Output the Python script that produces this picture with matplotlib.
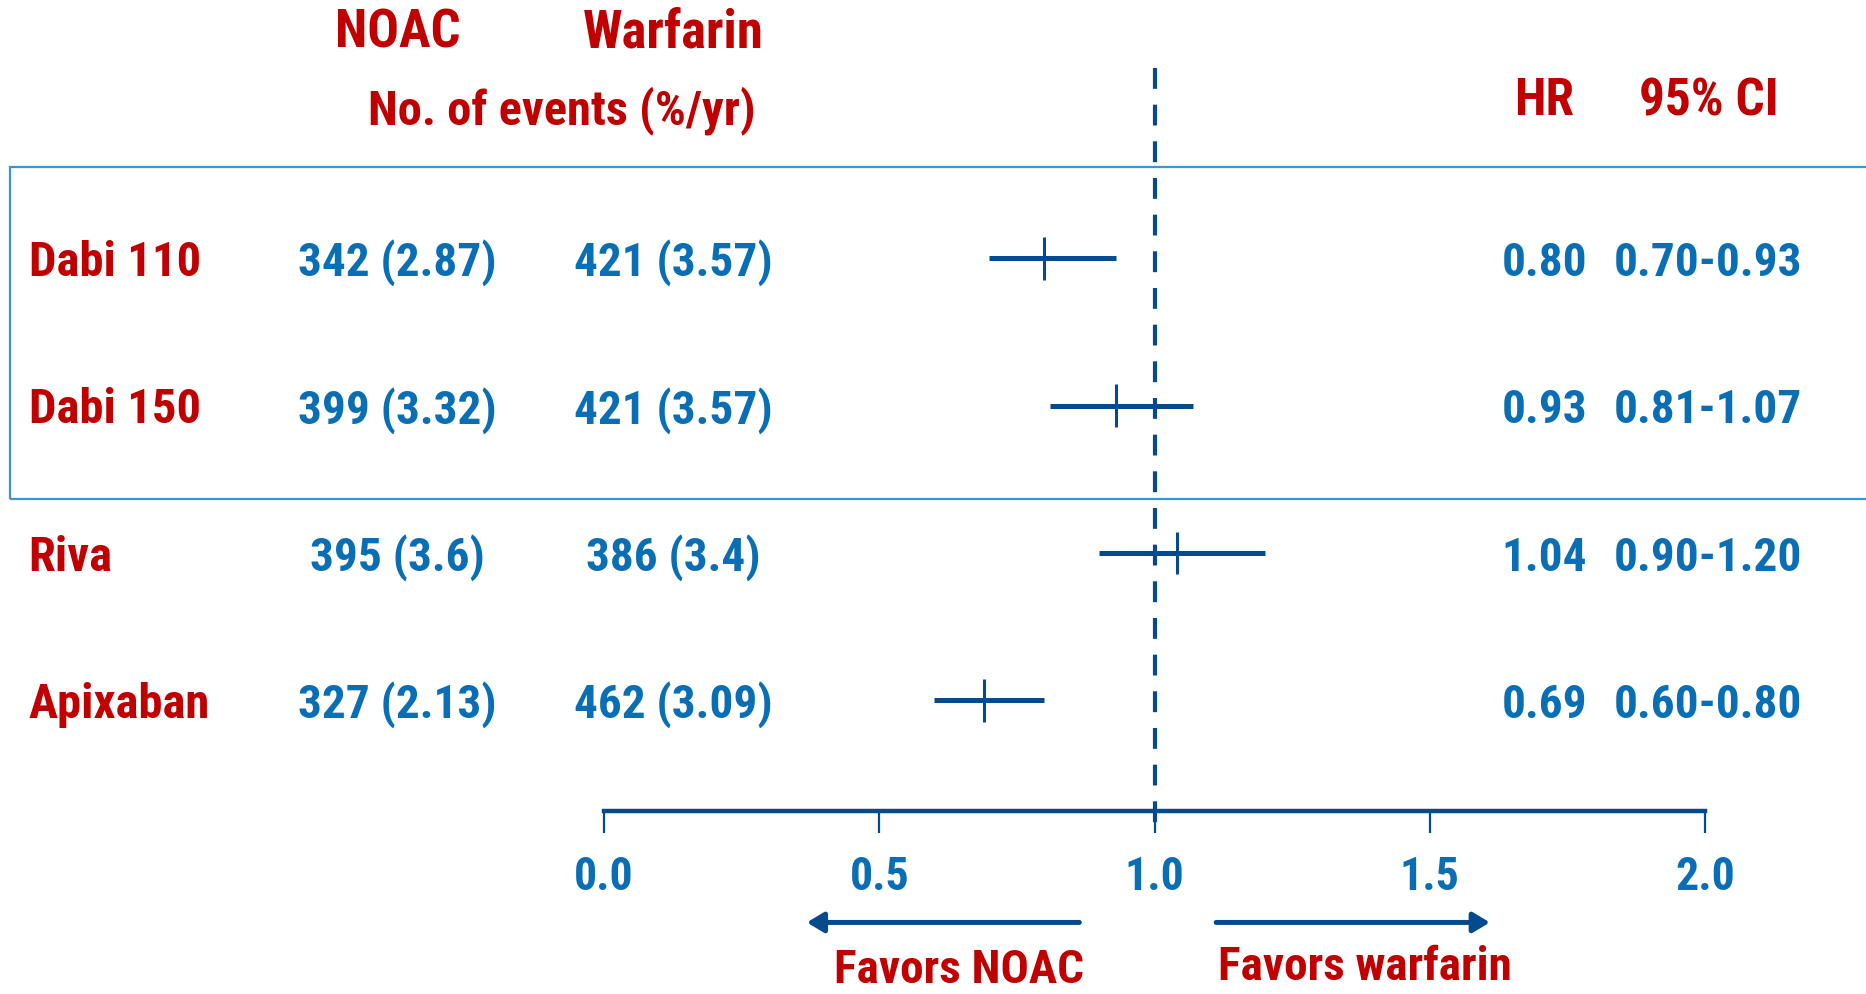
import matplotlib
matplotlib.use("Agg")
import matplotlib.pyplot as plt
from matplotlib import font_manager
from matplotlib.patches import Rectangle, FancyArrowPatch

# ---------------- data ----------------
drugs = ["Dabi 110", "Dabi 150", "Riva", "Apixaban"]
noac_events = ["342 (2.87)", "399 (3.32)", "395 (3.6)", "327 (2.13)"]
warf_events = ["421 (3.57)", "421 (3.57)", "386 (3.4)", "462 (3.09)"]
hr = [0.80, 0.93, 1.04, 0.69]
ci_low = [0.70, 0.81, 0.90, 0.60]
ci_high = [0.93, 1.07, 1.20, 0.80]
xticks = [0.0, 0.5, 1.0, 1.5, 2.0]
xtick_labels = ["0.0", "0.5", "1.0", "1.5", "2.0"]

# ---------------- style ----------------
names = {f.name for f in font_manager.fontManager.ttflist}
FONT = "DejaVu Sans"
for cand in ["Liberation Sans Narrow", "Roboto Condensed", "Open Sans Condensed", "Open Sans", "DejaVu Sans"]:
    if cand in names:
        FONT = cand
        break
plt.rcParams["font.family"] = [FONT, "DejaVu Sans"]
plt.rcParams["font.weight"] = "bold"

RED = "#C00000"
TXT_BLUE = "#0A6EB4"
LINE_BLUE = "#054A8C"
BOX_BLUE = "#3A95D3"

W, H = 1866, 995
fig = plt.figure(figsize=(W / 100, H / 100), dpi=100)


def T(x, y, s, color, fs, ha="center", va="center"):
    # x, y given in reference (shrunk 1568x836) pixel units
    y = y + 3
    fig.text(x * 1.19 / W, 1 - y * 1.19 / H, s, color=color, ha=ha, va=va,
             fontsize=fs, fontweight="bold")


# headers
T(334, 25, "NOAC", RED, 38)
T(566, 25, "Warfarin", RED, 38)
T(472, 90, "No. of events (%/yr)", RED, 35)
T(1298, 82, "HR", RED, 37)
T(1436, 82, "95% CI", RED, 37)

# box around dabigatran rows
bx0, by0, by1 = 8 * 1.19, 141 * 1.19, 420 * 1.19
fig.patches.append(Rectangle((bx0 / W, 1 - by1 / H), 1.2, (by1 - by0) / H,
                             transform=fig.transFigure, fill=False,
                             edgecolor=BOX_BLUE, linewidth=1.6))

# forest axes
ax_left, ax_right = 604, 1705
ax_top, ax_bot = 69, 812
ax = fig.add_axes([ax_left / W, 1 - ax_bot / H, (ax_right - ax_left) / W, (ax_bot - ax_top) / H])
ax.patch.set_alpha(0)
row_px0, row_step = 259.4, 147.3
ax.set_xlim(0, 2)
ax.set_ylim((ax_bot - row_px0) / row_step, (ax_top - row_px0) / row_step)
for s in ["top", "left", "right"]:
    ax.spines[s].set_visible(False)
ax.spines["bottom"].set_color(LINE_BLUE)
ax.spines["bottom"].set_linewidth(3.2)
ax.set_yticks([])
ax.set_xticks(xticks)
ax.set_xticklabels(xtick_labels, color=TXT_BLUE, fontsize=33, fontweight="bold")
ax.tick_params(axis="x", direction="out", length=16, width=1.6, color=LINE_BLUE, pad=15)

rows = list(range(len(drugs)))
ax.hlines(rows, ci_low, ci_high, color=LINE_BLUE, linewidth=3.6)
ax.vlines(hr, [r - 0.145 for r in rows], [r + 0.145 for r in rows], color=LINE_BLUE, linewidth=2.2)
ax.plot([1.0, 1.0], [(ax_top - row_px0) / row_step, (838 - row_px0) / row_step],
        color=LINE_BLUE, linewidth=3.0, linestyle=(0, (5, 3.8)), clip_on=False)

# row texts
for i, name in enumerate(drugs):
    y = (row_px0 + row_step * i) / 1.19
    T(24, y, name, RED, 35, ha="left")
    T(334, y, noac_events[i], TXT_BLUE, 34)
    T(566, y, warf_events[i], TXT_BLUE, 34)
    T(1298, y, f"{hr[i]:.2f}", TXT_BLUE, 34)
    T(1435, y, f"{ci_low[i]:.2f}-{ci_high[i]:.2f}", TXT_BLUE, 34)

# favour arrows
ay = 1 - 776 * 1.19 / H
for x0, x1 in [(907, 678), (1022, 1252)]:
    fig.add_artist(FancyArrowPatch(
        (x0 * 1.19 / W, ay), (x1 * 1.19 / W, ay), transform=fig.transFigure,
        arrowstyle="-|>,head_length=10,head_width=6", color=LINE_BLUE, linewidth=3.6,
        shrinkA=0, shrinkB=0))
fig.text(806 * 1.19 / W, 1 - 983 / H, "Favors NOAC", color=RED, ha="center",
         va="baseline", fontsize=34, fontweight="bold")
fig.text(1147 * 1.19 / W, 1 - 980 / H, "Favors warfarin", color=RED, ha="center",
         va="baseline", fontsize=34, fontweight="bold")

fig.savefig("out.png", dpi=100)
